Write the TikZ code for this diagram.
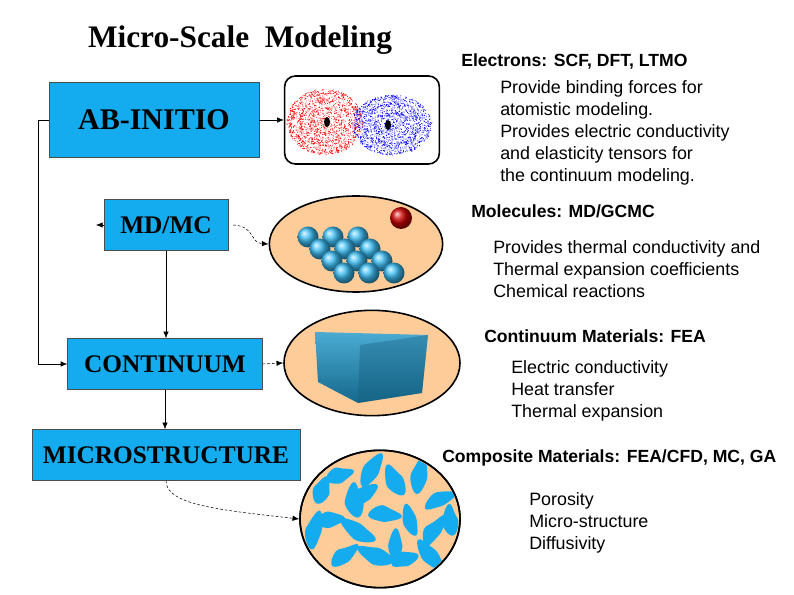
\documentclass[tikz,border=0pt]{standalone}
\usepackage{fontspec}
\setmainfont{Liberation Serif}
\setsansfont{Liberation Sans}
\usetikzlibrary{arrows.meta,shapes.geometric}
\definecolor{boxc}{RGB}{20,172,238}
\definecolor{ellc}{RGB}{253,204,153}
\definecolor{ballc}{RGB}{60,190,245}
\definecolor{cubec}{RGB}{30,150,200}
\tikzset{
 mbox/.style={draw=black!70,fill=boxc,minimum height=#1,inner sep=0pt,font=\fontsize{19}{19}\selectfont\bfseries},
 conn/.style={-{Latex[length=5pt,width=4pt]},thin},
 dconn/.style={-{Latex[length=5pt,width=4pt]},thin,dash pattern=on 2pt off 1.5pt},
 head/.style={anchor=west,font=\sffamily\bfseries\fontsize{13.2}{13.2}\selectfont,inner sep=0pt},
 body/.style={anchor=north west,align=left,font=\sffamily\fontsize{13.4}{16.5}\selectfont,inner sep=0pt},
 ell/.style={draw,line width=1.2pt,fill=ellc},
}
\begin{document}
\begin{tikzpicture}[x=0.75pt,y=-0.75pt]
\useasboundingbox (0,0) rectangle (794,595);
\node[font=\fontsize{23.5}{23.5}\selectfont\bfseries,inner sep=0pt] (title) at (240,40) {Micro-Scale\ \ Modeling};
\node[mbox=56.25pt,minimum width=157.5pt,font=\fontsize{22.5}{22.5}\selectfont\bfseries] (ab) at (154,120) {AB-INITIO};
\node[mbox=38.25pt,minimum width=93pt] (md) at (166,225) {MD/MC};
\node[mbox=38.25pt,minimum width=146pt] (co) at (165,364) {CONTINUUM};
\node[mbox=38.25pt,minimum width=201pt] (mi) at (166,455) {MICROSTRUCTURE};
% pictures
\node[draw,line width=1.2pt,rounded corners=8pt,minimum width=116pt,minimum height=66pt,fill=white] (p1) at (362,120) {};
\node[ell,ellipse,minimum width=130pt,minimum height=72pt] (p2) at (356,244) {};
\node[ell,ellipse,minimum width=132pt,minimum height=79pt] (p3) at (372,363) {};
\node[ell,ellipse,minimum width=120pt,minimum height=103pt] (p4) at (380,519) {};
% electron clouds
\pgfmathsetseed{7}
\foreach \i in {1,...,1800}{
 \pgfmathsetmacro\a{360*rnd}\pgfmathsetmacro\rr{sqrt(rnd)}
 \fill[red] ({325+38*\rr*cos(\a)},{122+33*\rr*sin(\a)}) circle (0.5);
}
\foreach \i in {1,...,1800}{
 \pgfmathsetmacro\a{360*rnd}\pgfmathsetmacro\rr{sqrt(rnd)}
 \fill[blue] ({392+40*\rr*cos(\a)},{125+30*\rr*sin(\a)}) circle (0.5);
}
\foreach \rr in {8,17,26}{\draw[white,line width=1.5pt,opacity=0.6] (325,122) ellipse ({\rr*1.1} and \rr);
 \draw[white,line width=1.5pt,opacity=0.6] (392,125) ellipse ({\rr*1.2} and {\rr*0.95});}
\fill (327,122) ellipse (3 and 5);
\fill (388,125) ellipse (3 and 5);
% spheres
\foreach \i in {0,...,3}\foreach \j in {0,...,2}{
 \shade[ball color=ballc] ({308+25*\j+12*\i},{237+12*\i}) circle (10.5);}
\shade[ball color=red!80!black] (401,218) circle (11);
% cube
\shade[top color=cubec!80!white,bottom color=cubec!70!black] (315,332) -- (428,335) -- (422,393) -- (358,403) -- (318,382) -- cycle;
\fill[cubec!60!black,opacity=0.35] (428,335) -- (422,393) -- (358,403) -- (360,345) -- cycle;
% blobs
\begin{scope}
\clip (p4.center) ellipse (79 and 67);
\pgfmathsetseed{3}
\foreach \cx/\cy/\ang in {322/490/70,340/475/20,355/500/100,372/470/60,395/480/120,420/475/80,440/500/30,330/520/10,358/530/150,385/515/0,410/520/110,435/530/60,345/555/40,375/555/160,405/560/20,430/555/130,395/545/90,365/495/45,315/530/80,450/520/100}{
 \pgfmathsetmacro\L{14+7*rnd}
 \fill[boxc,rotate around={\ang:(\cx,\cy)}] plot[smooth cycle,tension=0.8] coordinates {({\cx-\L},{\cy}) ({\cx-\L/3},{\cy-6-4*rnd}) ({\cx+\L/3},{\cy-5-3*rnd}) ({\cx+\L},{\cy+2*rnd}) ({\cx+\L/3},{\cy+6}) ({\cx-\L/3},{\cy+5+3*rnd})};
}
\end{scope}
\draw[line width=1.2pt] (p4.center) ellipse (80 and 68.7);
% connectors
\coordinate (lx) at (38,120);
\draw[conn] (ab.west) -- (lx) |- (co.west);
\draw[conn] (ab.east) -- (p1.west);
\coordinate (mdl) at (96,225);
\draw[conn] (md.west) -- (mdl);
\draw[dconn] (md.east) ++(5,0) .. controls (255,226) and (250,243) .. (p2.west);
\draw[conn] (md.south) -- (md.south |- co.north);
\draw[dconn] (co.east) -- (p3.west);
\draw[conn] (co.south) -- (co.south |- mi.north);
\draw[dconn] (mi.south) .. controls (166,505) and (220,510) .. (p4.west);
% texts
\node[head] (h1) at (461,61) {Electrons: SCF, DFT, LTMO};
\node[body] (b1) at (500,80) {Provide binding forces for\\atomistic modeling.\\Provides electric conductivity\\and elasticity tensors for\\the continuum modeling.};
\node[head] (h2) at (471,211) {Molecules: MD/GCMC};
\node[body] (b2) at (493,240) {Provides thermal conductivity and\\Thermal expansion coefficients\\Chemical reactions};
\node[head] (h3) at (484,336) {Continuum Materials: FEA};
\node[body] (b3) at (511,360) {Electric conductivity\\Heat transfer\\Thermal expansion};
\node[head] (h4) at (442,458) {Composite Materials: FEA/CFD, MC, GA};
\node[body] (b4) at (529,492) {Porosity\\Micro-structure\\Diffusivity};
\end{tikzpicture}
\end{document}
